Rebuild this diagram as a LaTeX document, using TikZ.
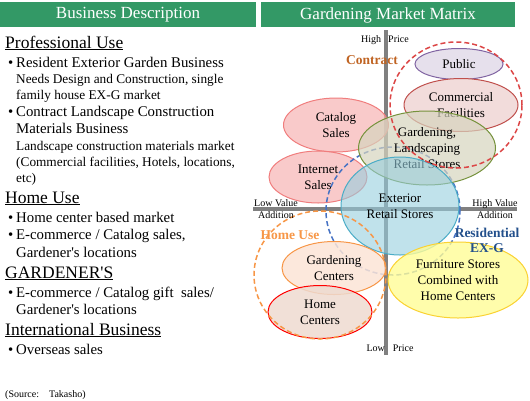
\documentclass[tikz,border=0pt]{standalone}
\usepackage{fontspec}
\setmainfont{Liberation Serif}
\newfontfamily\aposfont{Liberation Serif}[Ligatures=TeXOff]
\usetikzlibrary{shapes.geometric}

\definecolor{hdrgreen}{RGB}{51,153,102}
\definecolor{axisgray}{RGB}{128,128,128}
\definecolor{publine}{RGB}{128,100,162}
\definecolor{pubfill}{RGB}{230,224,236}
\definecolor{comline}{RGB}{192,80,77}
\definecolor{comfill}{RGB}{242,220,219}
\definecolor{grpred}{RGB}{220,70,70}
\definecolor{saleline}{RGB}{240,125,125}
\definecolor{salefill}{RGB}{246,180,180}
\definecolor{landline}{RGB}{118,146,60}
\definecolor{landfill}{RGB}{214,212,190}
\definecolor{extline}{RGB}{75,172,198}
\definecolor{extfill}{RGB}{150,206,222}
\definecolor{grpblue}{RGB}{70,114,196}
\definecolor{grporange}{RGB}{247,150,70}
\definecolor{gcfill}{RGB}{252,228,214}
\definecolor{hcfill}{RGB}{238,218,208}
\definecolor{furnline}{RGB}{250,210,50}
\definecolor{furnfill}{RGB}{255,252,150}
\definecolor{contractcol}{RGB}{192,100,35}
\definecolor{residcol}{RGB}{35,80,140}

\begin{document}
\begin{tikzpicture}[x=1pt, y=-1pt,
	hdrtext/.style = {text=white, inner sep=0pt, font=\fontsize{17}{20}\selectfont},
	head/.style    = {anchor=base west, inner sep=0pt, font=\fontsize{17.5}{20}\selectfont},
	item/.style    = {anchor=base west, inner sep=0pt, font=\fontsize{14.8}{17}\selectfont},
	sub/.style     = {anchor=base west, inner sep=0pt, font=\fontsize{13.3}{16}\selectfont},
	blob/.style    = {ellipse, inner sep=0pt, align=center, line width=1pt, text opacity=1, font=\fontsize{13}{16}\selectfont},
	group/.style   = {ellipse, inner sep=0pt, line width=1.5pt, dash pattern=on 5pt off 3pt},
	axis/.style    = {line width=4.5pt, draw=axisgray},
	axlabel/.style = {inner sep=0pt, align=center, font=\fontsize{10}{12.5}\selectfont},
	tag/.style     = {inner sep=0pt, align=center, font=\bfseries\fontsize{13.5}{15}\selectfont},
]
\newcommand{\bul}{\makebox[8pt][l]{\textbullet}}
\newcommand{\apos}{{\aposfont'}}

	\useasboundingbox (0,0) rectangle (530,400);

	% title bars
	\fill[hdrgreen] (0,2) rectangle (256,27);
	\fill[hdrgreen] (261,2) rectangle (515,27);
	\node[hdrtext] (bizhead) at (128,15) {Business Description};
	\node[hdrtext] (mkthead) at (388,15) {Gardening Market Matrix};

	% left column
	\node[head] (pro)   at (5,48)  {\underline{Professional Use}};
	\node[item] (pro1)  at (8,67)  {\bul Resident Exterior Garden Business};
	\node[sub]  (pro1a) at (16,83) {Needs Design and Construction, single};
	\node[sub]  (pro1b) at (16,99) {family house EX-G market};
	\node[item] (pro2)  at (8,116) {\bul Contract Landscape Construction};
	\node[item] (pro2a) at (16,133) {Materials Business};
	\node[sub]  (pro2b) at (16,150) {Landscape construction materials market};
	\node[sub]  (pro2c) at (16,166) {(Commercial facilities, Hotels, locations,};
	\node[sub]  (pro2d) at (16,182) {etc)};

	\node[head] (home)  at (5,203)  {\underline{Home Use}};
	\node[item] (home1) at (8,222)  {\bul Home center based market};
	\node[item] (home2) at (8,239)  {\bul E-commerce / Catalog sales,};
	\node[item] (home2a) at (16,257) {Gardener\apos s locations};

	\node[head] (gard)  at (5,278)  {\underline{GARDENER\apos S}};
	\node[item] (gard1) at (8,297)  {\bul E-commerce / Catalog gift\ \ sales/};
	\node[item] (gard1a) at (16,314) {Gardener\apos s locations};

	\node[head] (intl)  at (5,335)  {\underline{International Business}};
	\node[item] (intl1) at (8,354)  {\bul Overseas sales};

	\node[anchor=base west, inner sep=0pt, font=\fontsize{10}{12}\selectfont] (src) at (5,397) {(Source:\quad Takasho)};

	% axes
	\coordinate (ptop) at (386,30);
	\coordinate (pbot) at (386,355);
	\coordinate (vleft) at (253,209);
	\coordinate (vright) at (517,209);
	\draw[axis] (ptop) -- (pbot);
	\draw[axis] (vleft) -- (vright);

	% market areas
	\node[blob, draw=publine, fill=pubfill, minimum width=88pt, minimum height=31pt] (public) at (459,64) {Public};
	\node[blob, draw=comline, fill=comfill, minimum width=114pt, minimum height=53pt] (commercial) at (461,105) {Commercial\\Facilities};
	\node[blob, draw=saleline, fill=salefill, fill opacity=0.7, minimum width=105pt, minimum height=54pt] (catalog) at (336,125) {Catalog\\Sales};
	\node[blob, draw=saleline, fill=salefill, fill opacity=0.7, minimum width=98pt, minimum height=52pt] (internet) at (318,177) {Internet\\Sales};
	\node[group, draw=grpblue, minimum width=134pt, minimum height=128pt] (residential) at (393,211) {};
	\node[blob, draw=landline, fill=landfill, fill opacity=0.7, minimum width=137pt, minimum height=74pt] (landscaping) at (427,148) {Gardening,\\Landscaping\\Retail Stores};
	\node[blob, draw=extline, fill=extfill, fill opacity=0.6, minimum width=118pt, minimum height=98pt] (exterior) at (400,206) {Exterior\\Retail Stores};
	\node[group, draw=grpred, minimum width=132pt, minimum height=126pt] (contract) at (456,105) {};
	\node[blob, draw=grporange, fill=gcfill, fill opacity=0.85, minimum width=104pt, minimum height=53pt] (gcenters) at (334,268) {Gardening\\Centers};
	\node[blob, draw=red, fill=hcfill, fill opacity=0.85, minimum width=104pt, minimum height=53pt] (hcenters) at (320,312) {Home\\Centers};
	\node[blob, draw=furnline, fill=furnfill, fill opacity=0.8, minimum width=140pt, minimum height=76pt] (furniture) at (458,280) {Furniture Stores\\Combined with\\Home Centers};
	\node[group, draw=grporange, minimum width=132pt, minimum height=128pt] (homeuse) at (320,275) {};

	% axis labels
	\node[axlabel] (hiprice) at (385,40) {High\hspace{7pt}Price};
	\node[axlabel] (loprice) at (390,348) {Low\hspace{8pt}Price};
	\node[axlabel] (lovalue) at (276,209) {Low Value\\Addition};
	\node[axlabel] (hivalue) at (495,209) {High Value\\Addition};

	% group tags
	\node[tag, text=contractcol] (contracttag) at (372,60) {Contract};
	\node[tag, text=grporange] (hometag) at (290,235) {Home Use};
	\node[tag, text=residcol] (residtag) at (487,240) {Residential\\EX-G};

\end{tikzpicture}
\end{document}
